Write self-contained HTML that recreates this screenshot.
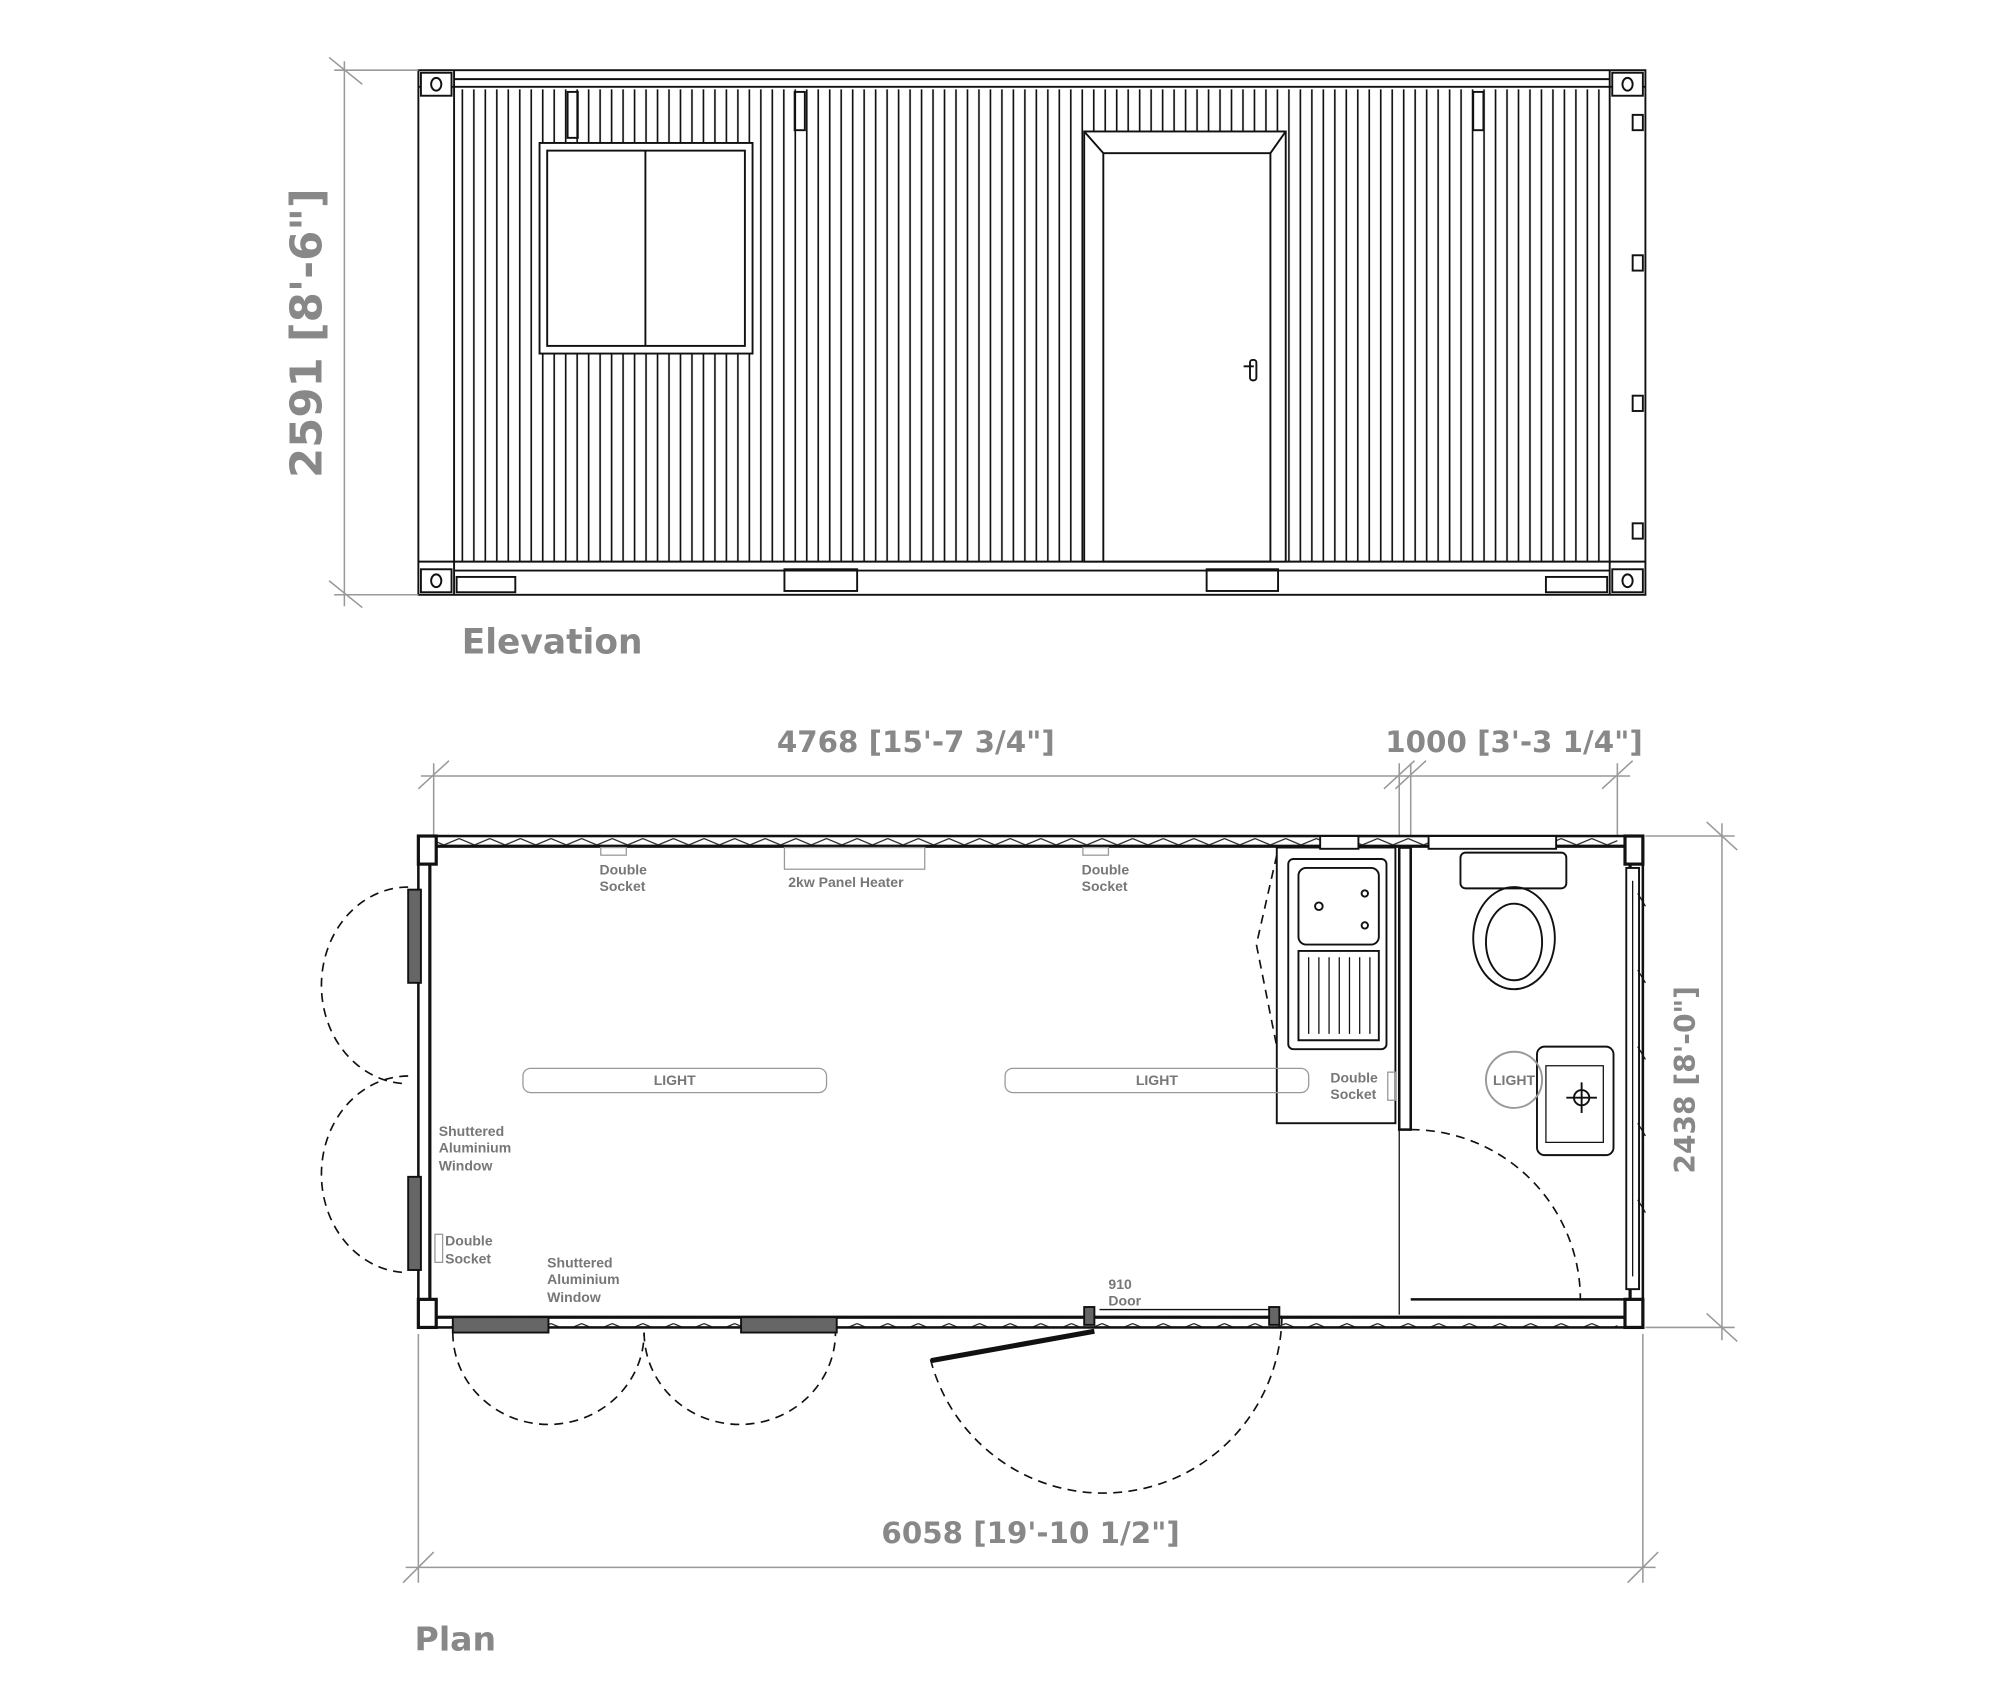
<!DOCTYPE html>
<html><head><meta charset="utf-8"><style>
html,body{margin:0;padding:0;background:#fff}
svg{display:block}
.t{font-family:"DejaVu Sans","Liberation Sans",sans-serif;font-weight:bold;fill:#888}
.s{font-family:"Liberation Sans",sans-serif;font-weight:bold;fill:#777;font-size:11px}
</style></head><body>
<svg width="2000" height="1681" viewBox="0 0 1568 1317" preserveAspectRatio="none" xmlns="http://www.w3.org/2000/svg">
<defs>
<pattern id="corr" x="358" y="0" width="9" height="10" patternUnits="userSpaceOnUse">
<line x1="4.5" y1="0" x2="4.5" y2="10" stroke="#111" stroke-width="1.3"/>
</pattern>
<pattern id="zig" x="0" y="655" width="24" height="10" patternUnits="userSpaceOnUse">
<polyline points="0,2 12,7 24,2" fill="none" stroke="#222" stroke-width="1"/>
</pattern>
</defs>
<g stroke="#111" fill="none" stroke-width="1.5">
<rect x="328" y="55" width="962" height="411"/>
<rect x="358" y="70" width="900" height="370" fill="url(#corr)" stroke="none"/>
<line x1="328" y1="68" x2="1290" y2="68"/><line x1="356" y1="62" x2="1262" y2="62"/>
<line x1="356" y1="55" x2="356" y2="466"/><line x1="1262" y1="55" x2="1262" y2="466"/>
<line x1="328" y1="440" x2="1290" y2="440"/><line x1="356" y1="447" x2="1262" y2="447"/>
<rect x="330" y="57" width="24" height="18" fill="#fff"/><ellipse cx="342" cy="66" rx="4" ry="5"/>
<rect x="1264" y="57" width="24" height="18" fill="#fff"/><ellipse cx="1276" cy="66" rx="4" ry="5"/>
<rect x="330" y="446" width="24" height="18" fill="#fff"/><ellipse cx="342" cy="455" rx="4" ry="5"/>
<rect x="1264" y="446" width="24" height="18" fill="#fff"/><ellipse cx="1276" cy="455" rx="4" ry="5"/>
<rect x="358" y="452" width="46" height="12"/><rect x="1212" y="452" width="48" height="12"/>
<rect x="615" y="446" width="57" height="17"/><rect x="946" y="446" width="56" height="17"/>
<rect x="423" y="112" width="167" height="165" fill="#fff"/><rect x="429" y="118" width="155" height="153"/>
<line x1="506" y1="118" x2="506" y2="271"/>
<rect x="850" y="103" width="158" height="337" fill="#fff"/><rect x="865" y="120" width="131" height="320"/>
<line x1="850" y1="103" x2="865" y2="120"/><line x1="1008" y1="103" x2="996" y2="120"/>
<rect x="980" y="282" width="5" height="16" rx="2"/><line x1="975" y1="287" x2="983" y2="287"/>
<rect x="445" y="72" width="8" height="36"/><rect x="623" y="72" width="8" height="30"/><rect x="1155" y="72" width="8" height="30"/>
<rect x="1280" y="90" width="8" height="12"/><rect x="1280" y="200" width="8" height="12"/><rect x="1280" y="310" width="8" height="12"/><rect x="1280" y="410" width="8" height="12"/>
</g>
<g stroke="#999" stroke-width="1.2">
<line x1="270" y1="48" x2="270" y2="475"/>
<line x1="258" y1="45" x2="284" y2="66"/><line x1="258" y1="455" x2="284" y2="476"/>
<line x1="262" y1="55" x2="328" y2="55"/><line x1="262" y1="466" x2="328" y2="466"/>
<line x1="330" y1="608" x2="1278" y2="608"/>
<line x1="340" y1="598" x2="340" y2="655"/><line x1="1097" y1="598" x2="1097" y2="655"/><line x1="1106" y1="598" x2="1106" y2="655"/><line x1="1268" y1="598" x2="1268" y2="655"/>
<line x1="328" y1="618" x2="352" y2="596"/><line x1="1085" y1="618" x2="1109" y2="596"/><line x1="1094" y1="618" x2="1118" y2="596"/><line x1="1256" y1="618" x2="1280" y2="596"/>
<line x1="1350" y1="645" x2="1350" y2="1050"/>
<line x1="1290" y1="655" x2="1360" y2="655"/><line x1="1290" y1="1040" x2="1360" y2="1040"/>
<line x1="1338" y1="644" x2="1362" y2="666"/><line x1="1338" y1="1029" x2="1362" y2="1051"/>
<line x1="318" y1="1228" x2="1298" y2="1228"/>
<line x1="328" y1="1045" x2="328" y2="1240"/><line x1="1288" y1="1045" x2="1288" y2="1240"/>
<line x1="316" y1="1240" x2="340" y2="1216"/><line x1="1276" y1="1240" x2="1300" y2="1216"/>
</g>
<text class="t" x="0" y="0" font-size="34" text-anchor="middle" transform="translate(252,261) rotate(-90)">2591 [8'-6"]</text>
<text class="t" x="362" y="512" font-size="27">Elevation</text>
<text class="t" x="718" y="589" font-size="23" text-anchor="middle">4768 [15'-7 3/4"]</text>
<text class="t" x="1187" y="589" font-size="23" text-anchor="middle">1000 [3'-3 1/4"]</text>
<text class="t" x="0" y="0" font-size="22" text-anchor="middle" transform="translate(1329,846) rotate(-90)">2438 [8'-0"]</text>
<text class="t" x="808" y="1209" font-size="23" text-anchor="middle">6058 [19'-10 1/2"]</text>
<text class="t" x="325" y="1293" font-size="26">Plan</text>
<g stroke="#111" fill="none" stroke-width="1.5">
<rect x="340" y="655" width="928" height="9" fill="url(#zig)" stroke="none"/>
<rect x="340" y="1031" width="928" height="9" fill="url(#zig)" stroke="none"/>
<rect x="328" y="655" width="960" height="385" stroke-width="2"/>
<rect x="337" y="663" width="941" height="369" stroke-width="2.5"/>
<rect x="328" y="655" width="14" height="22" fill="#fff" stroke-width="2.5"/>
<rect x="1274" y="655" width="14" height="22" fill="#fff" stroke-width="2.5"/>
<rect x="328" y="1018" width="14" height="22" fill="#fff" stroke-width="2.5"/>
<rect x="1274" y="1018" width="14" height="22" fill="#fff" stroke-width="2.5"/>
<rect x="1097" y="664" width="9" height="221" stroke-width="2"/>
<line x1="1106" y1="1018" x2="1278" y2="1018" stroke-width="2"/>
<line x1="1097" y1="885" x2="1097" y2="1030" stroke-width="1"/>
<rect x="320" y="697" width="10" height="73" fill="#666"/>
<rect x="320" y="922" width="10" height="73" fill="#666"/>
<rect x="355" y="1032" width="75" height="12" fill="#666"/>
<rect x="581" y="1032" width="75" height="12" fill="#666"/>
<rect x="850" y="1024" width="8" height="14" fill="#666"/><rect x="995" y="1024" width="8" height="14" fill="#666"/>
<line x1="858" y1="1043" x2="730" y2="1066" stroke-width="4"/>
<line x1="862" y1="1026" x2="995" y2="1026" stroke-width="1"/>
<g stroke-dasharray="7,5" stroke-width="1.3">
<path d="M320 695 A68 77 0 0 0 320 849"/>
<path d="M320 843 A68 77 0 0 0 320 997"/>
<path d="M355 1044 A75 72 0 0 0 505 1044"/>
<path d="M505 1044 A75 72 0 0 0 655 1044"/>
<path d="M729.5 1065 A140 140 0 0 0 1005 1030"/>
<path d="M1106 885 A133 133 0 0 1 1239 1018"/>
<path d="M1001 670 L985 740 L1001 820"/>
</g>
<rect x="1001" y="664" width="93" height="216"/>
<rect x="1010" y="673" width="77" height="149" rx="4"/>
<rect x="1018" y="680" width="63" height="60" rx="6"/>
<circle cx="1034" cy="710" r="3"/><circle cx="1070" cy="700" r="2.5"/><circle cx="1070" cy="725" r="2.5"/>
<path d="M1018 745 h63 v70 h-63z"/>
<path d="M1026 750v60M1034 750v60M1042 750v60M1050 750v60M1058 750v60M1066 750v60M1074 750v60" stroke-width="1"/>
<rect x="1145" y="668" width="83" height="28" rx="4"/>
<ellipse cx="1187" cy="735" rx="32" ry="40"/><ellipse cx="1187" cy="738" rx="22" ry="30"/>
<rect x="1205" y="820" width="60" height="85" rx="6"/>
<path d="M1212 835 h45 v60 h-45z" stroke-width="1"/>
<circle cx="1240" cy="860" r="6"/><line x1="1240" y1="848" x2="1240" y2="872"/><line x1="1228" y1="860" x2="1252" y2="860"/>
<circle cx="1187" cy="846" r="22" stroke="#999"/>
<rect x="1120" y="655" width="100" height="10" fill="#fff"/>
<rect x="1035" y="655" width="30" height="10" fill="#fff"/>
<rect x="1275" y="680" width="10" height="330" fill="#fff"/>
<path d="M1280 690v310M1284 700l6 10M1284 760l6 10M1284 820l6 10M1284 880l6 10M1284 940l6 10" stroke-width="1"/>
</g>
<g stroke="#999" fill="none" stroke-width="1">
<rect x="410" y="837" width="238" height="19" rx="6"/>
<rect x="788" y="837" width="238" height="19" rx="6"/>
<rect x="471" y="664" width="20" height="6"/><rect x="849" y="664" width="20" height="6"/>
<rect x="615" y="664" width="110" height="17"/>
<rect x="341" y="967" width="6" height="22"/><rect x="1088" y="840" width="6" height="22"/>
</g>
<text class="s" x="529" y="850" text-anchor="middle">LIGHT</text>
<text class="s" x="907" y="850" text-anchor="middle">LIGHT</text>
<text class="s" x="1187" y="850" text-anchor="middle">LIGHT</text>
<text class="s" x="470" y="685">Double</text><text class="s" x="470" y="698">Socket</text>
<text class="s" x="848" y="685">Double</text><text class="s" x="848" y="698">Socket</text>
<text class="s" x="618" y="695">2kw Panel Heater</text>
<text class="s" x="1043" y="848">Double</text><text class="s" x="1043" y="861">Socket</text>
<text class="s" x="344" y="890">Shuttered</text><text class="s" x="344" y="903">Aluminium</text><text class="s" x="344" y="917">Window</text>
<text class="s" x="349" y="976">Double</text><text class="s" x="349" y="990">Socket</text>
<text class="s" x="429" y="993">Shuttered</text><text class="s" x="429" y="1006">Aluminium</text><text class="s" x="429" y="1020">Window</text>
<text class="s" x="869" y="1010">910</text><text class="s" x="869" y="1023">Door</text>
</svg>
</body></html>
